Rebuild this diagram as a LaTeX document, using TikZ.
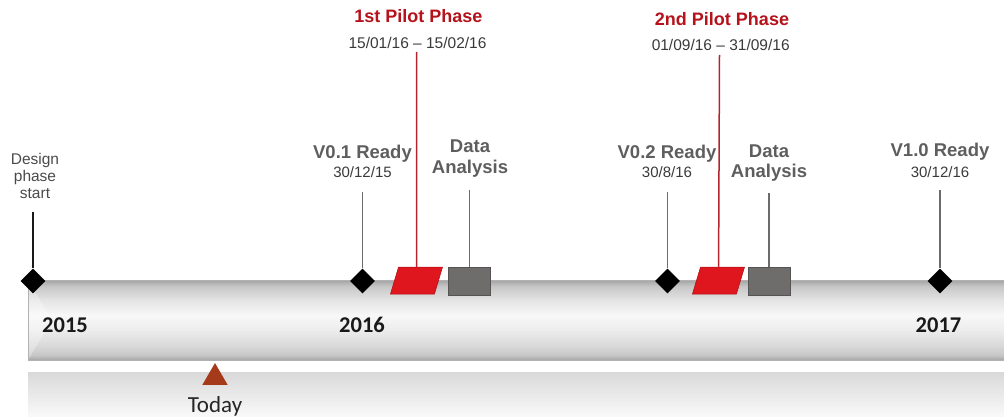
\documentclass[tikz,border=0pt]{standalone}
\usepackage{fontspec}
\setmainfont{Liberation Sans}
\newfontfamily\yearfont{Carlito}
\usepackage{tikz}
\usetikzlibrary{calc,shapes,positioning}

\definecolor{labelgray}{HTML}{5E5E5E}
\definecolor{dategray}{HTML}{3A3A3A}
\definecolor{designgray}{HTML}{4A4A4A}
\definecolor{pilotred}{HTML}{B5121B}
\definecolor{pilotline}{HTML}{B0262C}
\definecolor{pilotfill}{HTML}{E0161E}
\definecolor{pilotedge}{HTML}{A50F14}
\definecolor{boxgray}{HTML}{6F6C6C}
\definecolor{boxedge}{HTML}{555353}
\definecolor{stemgray}{HTML}{6B6B6B}
\definecolor{todayred}{HTML}{A53A1B}

% bar: path maps to 25bp (bottom) .. 75bp (top)
\pgfdeclareverticalshading{barshade}{100bp}{color(0bp)=(black!35); color(25bp)=(black!35); color(28bp)=(black!22); color(34bp)=(black!15); color(44bp)=(black!7); color(53bp)=(black!3); color(62bp)=(black!10); color(71bp)=(black!22); color(75bp)=(black!36); color(100bp)=(black!36)}

\begin{document}
\begin{tikzpicture}[x=1pt,y=-1pt]
  \useasboundingbox (0,0) rectangle (1004,417);
  \tikzstyle{mnode} = [diamond, fill=black, minimum size=25pt, inner sep=0pt]
  \tikzstyle{pnode} = [rectangle, transform shape, xslant=0.3, minimum width=44pt, minimum height=27pt, inner sep=0pt, fill=pilotfill, draw=pilotedge, line width=0.5pt]
  \tikzstyle{anode} = [rectangle, minimum width=42pt, minimum height=28pt, inner sep=0pt, fill=boxgray, draw=boxedge, line width=0.5pt]
  \tikzstyle{dlabel} = [anchor=base, inner sep=0pt, text=designgray, font=\fontsize{15.5}{17}\selectfont, align=center]
  \tikzstyle{mlabel} = [anchor=base, inner sep=0pt, text=labelgray, font=\fontsize{18.5}{20.5}\selectfont\bfseries, align=center]
  \tikzstyle{mdate} = [anchor=base, inner sep=0pt, text=dategray, font=\fontsize{15}{17}\selectfont]
  \tikzstyle{plabel} = [anchor=base, inner sep=0pt, text=pilotred, font=\fontsize{18}{20}\selectfont\bfseries]
  \tikzstyle{pdate} = [anchor=base, inner sep=0pt, text=dategray, font=\fontsize{15.5}{18}\selectfont]
  \tikzstyle{yearlabel} = [anchor=base, inner sep=0pt, text=black!90, font=\yearfont\fontsize{22.5}{24}\selectfont\bfseries]
  \tikzstyle{stem} = [draw=stemgray, line width=1.3pt]

  % timeline bar and its reflection
  \shade[top color=black!15, bottom color=black!2] (28,372) rectangle (1004,417);
  \shade[shading=barshade] (28,280) rectangle (1004,360);
  \fill[white, opacity=0.3] (28,280) -- (52,320) -- (28,360) -- cycle;
  \draw[black!30, line width=0.6pt] (28,280) rectangle (1004,360);

  \node[yearlabel] (y0) at (65,332) {2015};
  \node[yearlabel] (y1) at (362,332) {2016};
  \node[yearlabel] (y2) at (938.5,332) {2017};

  % milestones
  \node[mnode] (d0) at (33,281) {};
  \node[mnode] (d1) at (362.5,281) {};
  \node[mnode] (d2) at (667.5,281) {};
  \node[mnode] (d3) at (940,281) {};
  \coordinate (d0top) at (33,212);
  \coordinate (d1top) at (362.5,191.5);
  \coordinate (d2top) at (667.5,191.5);
  \coordinate (d3top) at (940,190);

  \node[dlabel] (l0) at (35,198.3) {Design\\phase\\start};
  \node[mlabel] (l1) at (362.5,159) {V0.1 Ready};
  \node[mdate] (l1d) at (362.5,177.3) {30/12/15};
  \node[mlabel] (l2) at (667,158) {V0.2 Ready};
  \node[mdate] (l2d) at (667,177.5) {30/8/16};
  \node[mlabel] (l3) at (940,157) {V1.0 Ready};
  \node[mdate] (l3d) at (940,177) {30/12/16};

  % pilot phases
  \node[pnode] (p1) at (416.5,280.5) {};
  \node[pnode] (p2) at (718.5,280.5) {};
  \coordinate (p1top) at (416.5,52);
  \coordinate (p2top) at (719.5,55);
  \node[plabel] (p1l) at (418.3,22.3) {1st Pilot Phase};
  \node[pdate] (p1d) at (417.5,48.3) {15/01/16 -- 15/02/16};
  \node[plabel] (p2l) at (722,26) {2nd Pilot Phase};
  \node[pdate] (p2d) at (720.7,50.5) {01/09/16 -- 31/09/16};

  % data analysis
  \node[anode] (a1) at (469.5,281) {};
  \node[anode] (a2) at (769,281) {};
  \coordinate (a1top) at (469.5,190);
  \coordinate (a2top) at (769,193);
  \node[mlabel] (a1l) at (470,173) {Data\\Analysis};
  \node[mlabel] (a2l) at (769,178) {Data\\Analysis};

  \path[draw, line width=1.6pt, black!90] (d0top) -- (d0);
  \path[stem]
  (d1top) edge node {} (d1)
  (d2top) edge node {} (d2)
  (d3top) edge node {} (d3)
  (a1top) edge node {} (a1)
  (a2top) edge node {} (a2)
  ;
  \path[draw, line width=1.5pt, pilotline]
  (p1top) edge node {} (p1)
  (p2top) edge node {} (p2)
  ;

  % today marker
  \node[regular polygon, regular polygon sides=3, fill=todayred, minimum size=29pt, inner sep=0pt] (t0) at (215,377.5) {};
  \node[anchor=base, inner sep=0pt, text=black!85, font=\yearfont\fontsize{23}{25}\selectfont] (t0l) at (215,412) {Today};
\end{tikzpicture}
\end{document}
